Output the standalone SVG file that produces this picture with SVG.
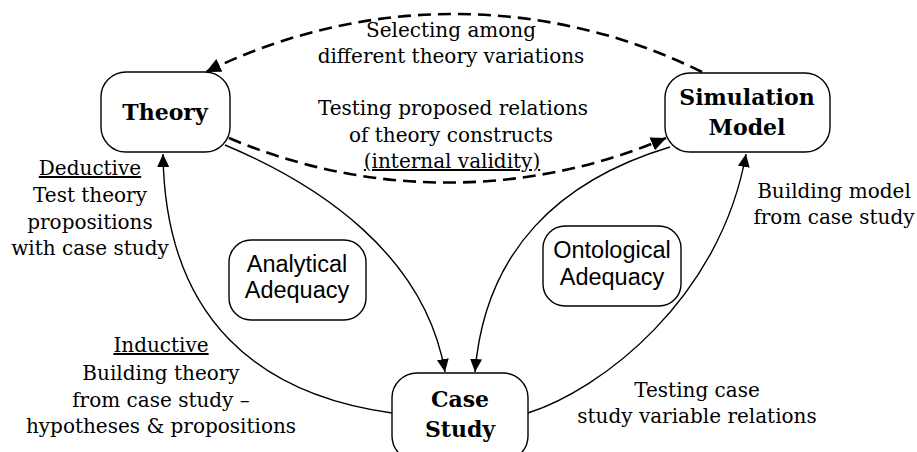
<svg xmlns="http://www.w3.org/2000/svg" width="917" height="452" viewBox="0 0 917 452">
<style>
.box{fill:#fff;stroke:#000;stroke-width:1.4}
.lbl{font-family:"DejaVu Serif","Liberation Serif",serif;font-size:20px;fill:#000;text-anchor:middle}
.bold{font-family:"DejaVu Serif","Liberation Serif",serif;font-size:22px;font-weight:bold;fill:#000;text-anchor:middle}
.sans{font-family:"Liberation Sans",Arial,sans-serif;font-size:23.5px;fill:#000;text-anchor:middle}
.solid{fill:none;stroke:#000;stroke-width:1.4}
.dash{fill:none;stroke:#000;stroke-width:2.6;stroke-dasharray:13 7}
.ul{text-decoration:underline}
</style>
<defs>
<marker id="ah" markerUnits="userSpaceOnUse" markerWidth="14" markerHeight="12" refX="13" refY="6" orient="auto">
<path d="M0,0 L13,6 L0,12 z" fill="#000"/>
</marker>
<marker id="ahd" markerUnits="userSpaceOnUse" markerWidth="16" markerHeight="14" refX="15" refY="7" orient="auto">
<path d="M0,0 L15,7 L0,14 z" fill="#000"/>
</marker>
</defs>
<g id="connectors">
<path class="dash" d="M702,72 A 559 559 0 0 0 206,72" marker-end="url(#ahd)"/>
<path class="dash" d="M229,138 A 558 558 0 0 0 666,138" marker-end="url(#ahd)"/>
<path class="solid" d="M392,413 C 260,395 165,320 163,154" marker-end="url(#ah)"/>
<path class="solid" d="M528,413 C 600,390 720,300 746,154" marker-end="url(#ah)"/>
<path class="solid" d="M225,145 C 320,185 425,255 445,372" marker-end="url(#ah)"/>
<path class="solid" d="M670,147 C 560,180 485,250 475,372" marker-end="url(#ah)"/>
</g>
<g id="theory">
<rect class="box" x="101" y="72" width="129" height="80" rx="25"/>
<text class="bold" x="165" y="120">Theory</text>
</g>
<g id="simulation-model">
<rect class="box" x="665" y="73" width="165" height="79" rx="25"/>
<text class="bold" x="747" y="105">Simulation</text>
<text class="bold" x="747" y="135">Model</text>
</g>
<g id="case-study">
<rect class="box" x="392" y="373" width="136" height="88" rx="25"/>
<text class="bold" x="460" y="407">Case</text>
<text class="bold" x="460" y="437">Study</text>
</g>
<g id="analytical-adequacy">
<rect class="box" x="229" y="240" width="137" height="80" rx="22"/>
<text class="sans" x="297" y="272">Analytical</text>
<text class="sans" x="297" y="298">Adequacy</text>
</g>
<g id="ontological-adequacy">
<rect class="box" x="543" y="226" width="138" height="80" rx="22"/>
<text class="sans" x="612" y="258">Ontological</text>
<text class="sans" x="612" y="285">Adequacy</text>
</g>
<g id="labels">
<text class="lbl" x="451" y="37">Selecting among</text>
<text class="lbl" x="451" y="63">different theory variations</text>
<text class="lbl" x="453" y="115">Testing proposed relations</text>
<text class="lbl" x="451" y="142">of theory constructs</text>
<text class="lbl ul" x="452" y="168">(internal validity)</text>
<text class="lbl ul" x="90" y="175">Deductive</text>
<text class="lbl" x="90" y="202">Test theory</text>
<text class="lbl" x="90" y="229">propositions</text>
<text class="lbl" x="90" y="255">with case study</text>
<text class="lbl ul" x="161" y="352">Inductive</text>
<text class="lbl" x="161" y="380">Building theory</text>
<text class="lbl" x="161" y="407">from case study –</text>
<text class="lbl" x="161" y="433">hypotheses &amp; propositions</text>
<text class="lbl" x="834" y="198">Building model</text>
<text class="lbl" x="834" y="224">from case study</text>
<text class="lbl" x="697" y="397">Testing case</text>
<text class="lbl" x="697" y="423">study variable relations</text>
</g>
</svg>
